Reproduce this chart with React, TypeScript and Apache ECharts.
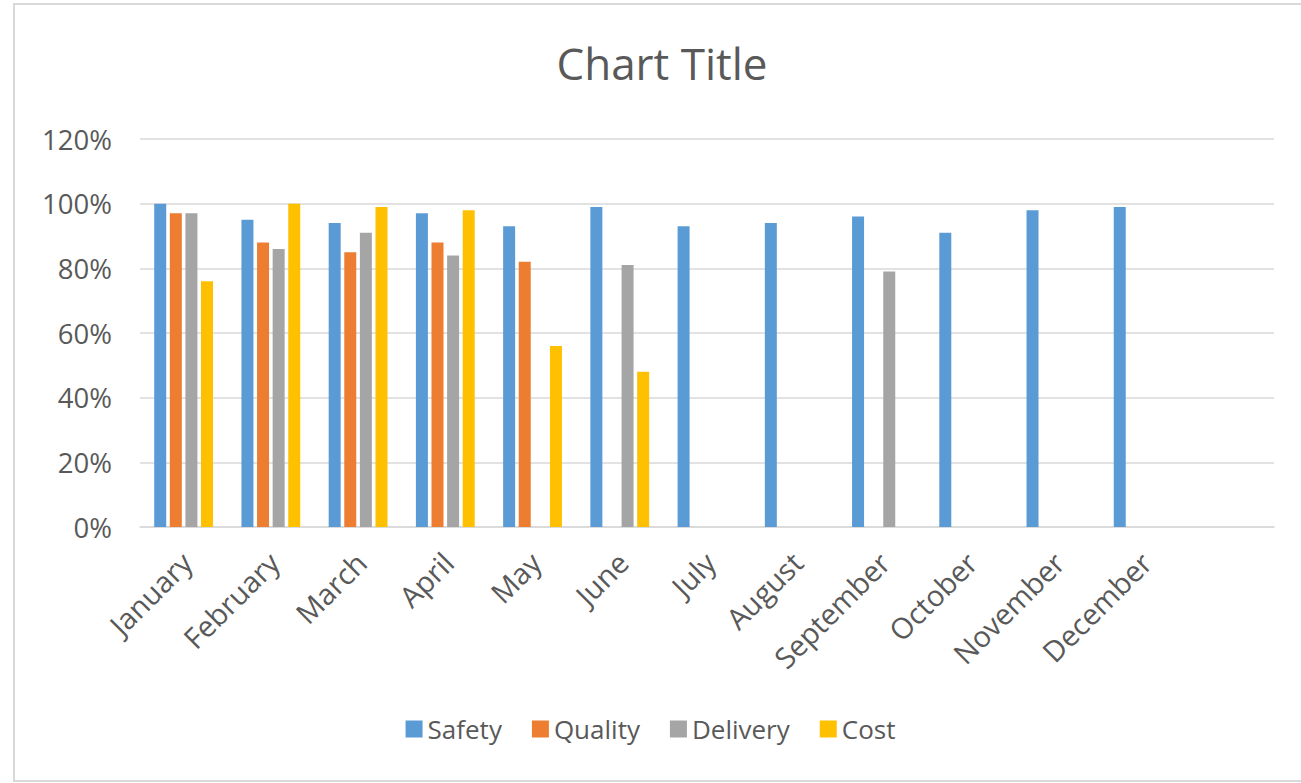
import React, { useEffect, useRef } from "react";
import * as echarts from "echarts";

// Monthly KPI attainment by category
const months = [
  "January", "February", "March", "April", "May", "June",
  "July", "August", "September", "October", "November", "December", "",
];
const safety = [1.0, 0.95, 0.94, 0.97, 0.93, 0.99, 0.93, 0.94, 0.96, 0.91, 0.98, 0.99, null];
const quality = [0.97, 0.88, 0.85, 0.88, 0.82, null, null, null, null, null, null, null, null];
const delivery = [0.97, 0.86, 0.91, 0.84, null, 0.81, null, null, 0.79, null, null, null, null];
const cost = [0.76, 1.0, 0.99, 0.98, 0.56, 0.48, null, null, null, null, null, null, null];

const seriesNames = ["Safety", "Quality", "Delivery", "Cost"];
const seriesColors = ["#5B9BD5", "#ED7D31", "#A5A5A5", "#FFC000"];
const seriesValues = [safety, quality, delivery, cost];

const FONT = "'Open Sans', 'Noto Sans', sans-serif";
const TEXT = "#595959";

export default function App() {
  const ref = useRef<HTMLDivElement>(null);

  useEffect(() => {
    document.body.style.margin = "0";
    const chart = echarts.init(ref.current!, null, { renderer: "svg" });
    chart.setOption({
      animation: false,
      backgroundColor: "#ffffff",
      textStyle: { fontFamily: FONT, color: TEXT },
      title: {
        text: "Chart Title",
        left: 657,
        top: 36,
        textAlign: "center",
        textStyle: { fontFamily: FONT, fontSize: 44, fontWeight: "normal", color: TEXT },
      },
      graphic: [
        {
          type: "rect",
          shape: { x: 14, y: 4, width: 1310, height: 777 },
          style: { fill: "none", stroke: "#d9d9d9", lineWidth: 2 },
          silent: true,
        },
      ],
      legend: {
        data: seriesNames,
        bottom: 36,
        left: "center",
        icon: "rect",
        itemWidth: 17,
        itemHeight: 17,
        itemGap: 30,
        textStyle: { fontFamily: FONT, fontSize: 26, color: TEXT },
      },
      grid: { left: 140, right: 27, top: 139, bottom: 256, containLabel: false },
      xAxis: {
        type: "category",
        data: months,
        axisLine: { lineStyle: { color: "#d9d9d9", width: 1.5 } },
        axisTick: { show: false },
        axisLabel: {
          rotate: 45,
          interval: 0,
          margin: 33,
          padding: [0, -4, 0, 0],
          fontFamily: FONT,
          fontSize: 29,
          color: TEXT,
        },
      },
      yAxis: {
        type: "value",
        min: 0,
        max: 1.2,
        interval: 0.2,
        axisLine: { show: false },
        axisTick: { show: false },
        splitLine: { lineStyle: { color: "#d9d9d9", width: 1.5 } },
        axisLabel: {
          margin: 28,
          fontFamily: FONT,
          fontSize: 27.5,
          color: TEXT,
          formatter: (v: number) => `${Math.round(v * 100)}%`,
        },
      },
      series: seriesNames.map((name, i) => ({
        name,
        type: "bar",
        data: seriesValues[i],
        barWidth: 12,
        barGap: "30%",
        itemStyle: { color: seriesColors[i] },
      })),
    });
    return () => chart.dispose();
  }, []);

  return (
    <div
      ref={ref}
      style={{ position: "absolute", left: 0, top: 0, width: 1301, height: 783 }}
    />
  );
}
